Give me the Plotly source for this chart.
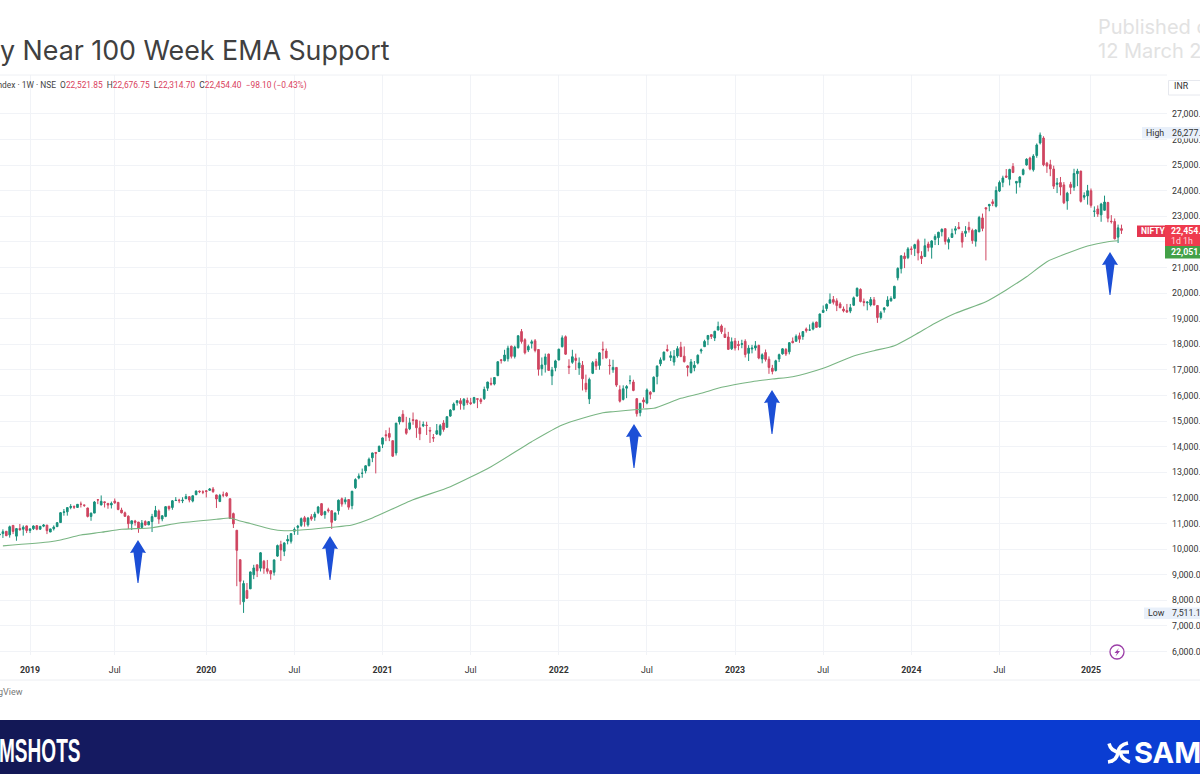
import plotly.graph_objects as go
import pandas as pd

# Weekly bars, first Monday 2018-11-05
week_start = "2018-11-05"

opens = [
 10560,10610,10700,10560,10930,10510,10810,10780,10910,
 10730,10800,10920,10780,10900,10940,10670,10800,10880,11040,11440,11460,11630,11670,11630,11760,11730,11610,11280,11410,11930,11730,11850,11790,11730,11880,11830,11530,11420,11290,10990,11100,11060,10850,11080,10950,11080,11270,11490,11180,11280,11680,11630,11900,11920,11890,11970,12050,11880,12130,12270,12240,
 12280,12300,12350,12120,11860,12120,12190,11970,11390,10740,9590,7945,8385,8450,9000,9390,9260,9530,9240,9160,9100,9730,10180,9920,10320,10310,10700,10850,10930,11230,10950,11270,11250,11430,11780,11350,11540,11500,11140,11500,11970,11850,11940,11700,12400,12780,12960,13060,13260,13570,13780,13815,
 14100,14470,14520,14240,13760,14970,15270,14700,14700,15060,15050,14740,14820,14840,14640,14360,14500,14480,14930,14760,15200,15440,15720,15800,15620,15810,15720,15720,15880,15840,15880,16290,16480,16450,16780,17400,17360,17440,17930,17530,17870,18500,18180,17780,18040,18140,17800,17050,17210,17620,16770,17090,
 17390,17910,18300,17150,17300,17460,17080,17190,16480,15870,16870,17330,17180,17810,17740,17180,17010,17100,16230,15850,16290,16580,16530,15880,15330,15830,15710,16130,16150,16750,17240,17400,17800,17490,17310,17550,17890,17540,17160,16900,17090,17270,17740,17910,18200,18380,18250,18560,18720,18400,18290,17830,
 18130,18000,18000,18120,17650,17820,17860,17960,17430,17680,17420,17070,16980,17430,17630,17800,17710,18120,18120,18340,18310,18600,18560,18600,18870,18680,19250,19400,19610,19750,19700,19580,19380,19320,19300,19530,19890,20150,19680,19620,19540,19740,19520,19050,19350,19500,19700,19800,20600,20960,21450,21390,
 21730,21750,22050,21450,21430,21920,21790,22100,22170,22400,22520,21990,22180,22460,22580,22340,22340,22570,22450,22030,22400,22940,23340,23410,23570,23400,23990,24330,24580,24450,24950,24300,24320,24640,25010,25280,24820,25380,25870,26060,25080,25020,24850,24250,24320,24230,23600,24250,24140,24670,24770,23750,23800,
 24000,23200,23290,23060,23240,23540,22810,22800,22190,22521.85,
]
highs = [
 10600,10775,10710,10920,10940,10820,10985,10930,10920,
 10800,10930,10930,10900,10980,10950,10800,10930,11060,11450,11570,11630,11760,11710,11760,11860,11730,11620,11430,11880,11960,12100,11860,11800,11860,11980,11830,11620,11470,11320,11100,11145,11060,11140,11130,11090,11380,11690,11550,11330,11680,11680,11920,12035,11970,12030,12160,12070,12100,12290,12290,12300,
 12310,12390,12430,12130,12160,12250,12230,11980,11430,10750,9590,8777,8680,9130,9390,9390,9890,9580,9580,9180,9600,10180,10330,10270,10550,10630,10850,10950,11240,11300,11260,11370,11460,11690,11800,11500,11620,11530,11430,11940,12020,12030,11950,12280,12770,12960,13150,13280,13580,13770,13780,14050,
 14370,14650,14750,14240,14930,15170,15430,15170,15130,15340,15050,15020,14990,14980,14770,14500,14890,14890,15040,15190,15470,15730,15810,15900,15900,15920,15910,15950,15880,15910,16350,16540,16700,16720,17340,17430,17790,17950,17950,17950,18350,18600,18240,17990,18180,18210,17810,17490,17640,17640,17120,17400,
 17830,18350,18350,17420,17790,17640,17490,17350,16820,16700,17350,17440,17700,18110,17840,17420,17400,17100,16400,16400,16410,16790,16620,15900,15710,15930,16280,16180,16750,17170,17490,17720,17990,17730,17780,17930,18100,17920,17190,17430,17350,17610,17840,18180,18360,18400,18530,18890,18780,18650,18490,18270,
 18250,18140,18180,18200,17970,17980,18130,17990,17650,17800,17530,17200,17400,17640,17850,17860,18090,18270,18390,18460,18520,18660,18780,18890,18890,19200,19520,19600,19990,19890,19800,19650,19480,19580,19580,19870,20220,20190,19790,19680,19850,19850,19520,19300,19460,19880,19880,20290,21010,21490,21590,21800,
 21830,21930,22125,21640,22130,22010,22070,22300,22400,22530,22530,22180,22520,22620,22780,22430,22620,22790,22520,22500,23020,23110,23340,23490,23670,24170,24400,24590,24850,24860,25080,24380,24570,24870,25270,25330,25430,25850,26277,26130,25130,25210,24980,24500,24540,24340,23960,24350,24860,24860,24780,23940,24230,
 24090,23390,23430,23530,23810,23570,23050,22920,22680,22676.75,
]
lows = [
 10440,10440,10510,10450,10590,10330,10730,10530,10630,
 10630,10750,10740,10760,10860,10590,10670,10730,10880,11040,11310,11310,11560,11570,11630,11630,11650,11240,11110,11410,11760,11710,11630,11580,11590,11770,11520,11400,11260,10790,10750,10920,10640,10840,10920,10940,10670,11270,10990,11090,11250,11510,11540,11900,11800,11800,11980,11830,11830,12110,12190,12150,
 12020,12280,12200,11610,11860,12030,12050,11180,10827,8555,7832,7511,8056,8516,8830,8910,9130,9040,9040,8810,8970,9700,9540,9730,10190,10220,10560,10560,10870,10880,10880,11110,11110,11370,11300,11190,11430,10790,11100,11350,11660,11750,11540,11560,12350,12730,12790,12960,13240,13400,12960,13810,
 13950,14220,14220,13600,13660,14870,14960,14470,14650,14860,14350,14260,14770,14460,14150,14190,14460,14420,14590,14760,15170,15430,15610,15450,15450,15630,15630,15680,15510,15670,15830,16180,16390,16400,16760,17250,17340,17330,17450,17450,17840,18030,17610,17700,17840,17690,16780,16780,16900,16960,16410,16950,
 17380,17880,17590,16840,17240,17000,16810,16200,16130,15670,16840,17000,17010,17420,17450,16820,16890,16340,15730,15810,15900,16440,16170,15180,15190,15510,15660,15860,16140,16440,17150,17360,17710,17350,17170,17480,17500,17290,16750,16860,16950,17220,17640,17910,17970,18210,18130,18550,18410,18260,17780,17780,
 17760,17770,17850,17490,17350,17650,17760,17420,17260,17330,16850,16830,16940,17310,17600,17550,17610,18040,18120,18060,18180,18460,18530,18550,18650,18650,19230,19300,19610,19560,19300,19420,19250,19230,19220,19500,19860,19640,19490,19330,19480,19520,18840,18970,19240,19480,19670,19770,20500,20770,20980,21330,
 21500,21450,21280,21140,21430,21630,21350,21880,21880,22220,21900,21710,22160,22300,22500,21780,22200,22370,21930,21820,22380,22420,21280,23200,23400,23350,23950,24140,24500,24210,24690,23890,24130,24600,24980,24800,24750,25290,25810,24960,24700,24570,24070,23910,23820,23480,23260,23870,24000,24180,23540,23650,23460,
 23340,22980,22980,22790,23220,22770,22720,22100,21960,22314.70,
]
closes = [
 10585,10682,10527,10877,10694,10805,10754,10859,10727,
 10794,10907,10780,10894,10944,10724,10792,10863,11035,11427,11456,11624,11666,11643,11753,11755,11712,11279,11407,11844,11923,11871,11823,11724,11788,11811,11552,11419,11284,10997,11109,11048,10829,11023,10946,11076,11274,11512,11175,11305,11662,11584,11890,11908,11895,11914,12056,11922,12087,12272,12246,12226,
 12257,12352,12248,11962,12098,12113,12081,11202,10989,9955,8745,8660,8084,9112,9267,9154,9860,9251,9137,9039,9580,10142,9972,10244,10383,10607,10768,10901,11194,11073,11214,11178,11371,11647,11333,11464,11504,11050,11416,11914,11762,11930,11642,12263,12720,12859,12968,13258,13513,13760,13749,14018,
 14347,14433,14371,13634,14924,15163,14981,14529,14938,15030,14744,14507,14867,14834,14617,14341,14631,14823,14677,15175,15435,15670,15799,15683,15860,15722,15689,15923,15856,15763,16238,16529,16450,16705,17323,17369,17585,17853,17532,17895,18338,18114,17671,17916,18102,17765,17026,17196,17511,16985,17003,17354,
 17812,18255,17617,17101,17516,17374,17276,16658,16245,16630,17287,17153,17670,17784,17475,17171,17102,16411,15782,16266,16352,16584,16201,15293,15699,15752,16220,16049,16719,17158,17397,17698,17758,17558,17539,17833,17530,17327,17094,17314,17185,17576,17786,18117,18349,18307,18512,18696,18496,18269,17806,18105,
 17859,17956,18027,17604,17854,17856,17944,17466,17594,17413,17100,16945,17359,17599,17828,17624,18065,18069,18315,18203,18499,18534,18563,18826,18665,19189,19332,19564,19745,19646,19517,19428,19310,19266,19435,19820,20192,19674,19638,19654,19751,19542,19047,19230,19425,19732,19795,20268,20969,21457,21349,21731,
 21711,21895,21572,21353,21854,21783,22041,22213,22379,22494,22023,22097,22327,22514,22519,21996,22420,22476,22055,22466,22957,22531,23290,23466,23501,24010,24324,24502,24531,24834,24717,24367,24541,24823,25235,24852,25356,25790,26178,25014,24964,24854,24180,24304,24148,23532,23907,24131,24677,24768,23587,23813,24005,
 23432,23203,23092,23482,23560,22929,22796,22125,22552,22454.40,
]

ema_dates = ["2018-11-12","2019-02-18","2019-03-11","2019-04-22","2019-06-03","2019-07-15","2019-09-16","2019-11-11",
 "2020-01-27","2020-02-24","2020-03-16","2020-04-06","2020-05-18","2020-06-15","2020-07-13","2020-09-21","2020-11-02","2020-12-14",
 "2021-03-08","2021-05-24","2021-08-16","2021-11-08","2022-01-10","2022-04-04","2022-04-25","2022-06-27","2022-07-18","2022-09-12","2022-10-24","2022-12-05",
 "2023-02-06","2023-03-20","2023-05-01","2023-07-03","2023-09-04","2023-10-16","2023-11-27","2024-01-08","2024-02-19","2024-04-01","2024-06-03","2024-07-15","2024-08-26","2024-10-07","2024-11-18","2024-12-30","2025-02-10","2025-03-03"]
ema_values = [10130,10290,10360,10555,10660,10777,10840,11023,
 11167,11219,11100,11000,10790,10723,10740,10855,10945,11219,
 11930,12441,13223,14200,14852,15332,15371,15477,15503,15894,16090,16324,
 16543,16648,16738,17066,17547,17755,17950,18367,18824,19215,19668,20128,20644,21230,21558,21844,22012,22051]

tick_dates = ["2019-01-07","2019-07-01","2020-01-06","2020-07-06","2021-01-04","2021-07-05","2022-01-03","2022-07-04","2023-01-02","2023-07-03","2024-01-01","2024-07-01","2025-01-06"]
tick_labels = ["<b>2019</b>","Jul","<b>2020</b>","Jul","<b>2021</b>","Jul","<b>2022</b>","Jul","<b>2023</b>","Jul","<b>2024</b>","Jul","<b>2025</b>"]
price_ticks = list(range(6000, 28000, 1000))
arrow_centres = [-8, 138, 330, 634, 772, 1110]
arrow_tops = [554, 540, 536, 424, 390, 252]
arrow_lengths = [44, 43, 44, 44, 44, 43]

UP, DOWN = "#17907c", "#cf4560"
W, H = 1200, 776
L_, R_, T_, B_ = 0, 1167, 75, 655
PX = lambda x: (x - L_) / (R_ - L_)
PY = lambda y: (B_ - y) / (B_ - T_)

dates = pd.date_range(week_start, periods=len(closes), freq="7D")
assert len(opens) == len(highs) == len(lows) == len(closes), (len(opens), len(highs), len(lows), len(closes))

fig = go.Figure()
fig.add_trace(go.Candlestick(x=dates, open=opens, high=highs, low=lows, close=closes,
    increasing=dict(line=dict(color=UP, width=1), fillcolor=UP),
    decreasing=dict(line=dict(color=DOWN, width=1), fillcolor=DOWN),
    whiskerwidth=0, hoverinfo="skip", showlegend=False))
fig.add_trace(go.Scatter(x=pd.to_datetime(ema_dates), y=ema_values, mode="lines",
    line=dict(color="#79b583", width=1.1, shape="spline", smoothing=0.6), hoverinfo="skip", showlegend=False))

def rect(x0, y0, x1, y1, fill, line=None):
    return dict(type="rect", xref="paper", yref="paper", x0=PX(x0), x1=PX(x1), y0=PY(y0), y1=PY(y1),
                fillcolor=fill, line=dict(width=1 if line else 0, color=line or fill), layer="above")

def poly(points, fill):
    d = "M" + " L".join(f"{PX(x):.5f},{PY(y):.5f}" for x, y in points) + " Z"
    return dict(type="path", xref="paper", yref="paper", path=d, fillcolor=fill, line=dict(width=0), layer="above")

def stroke(d_points, color, width):
    d = " ".join(f"{c}{PX(x):.5f},{PY(y):.5f}" + (f" {PX(x2):.5f},{PY(y2):.5f}" if x2 is not None else "")
                 for c, x, y, x2, y2 in d_points)
    return dict(type="path", xref="paper", yref="paper", path=d, line=dict(width=width, color=color), layer="above")

def note(x, y, text, size=8.8, color="#131722", anchor="left", family="Roboto", bg=None):
    return dict(xref="paper", yref="paper", x=PX(x), y=PY(y), text=text, showarrow=False, xanchor=anchor, yanchor="middle",
                font=dict(size=size, color=color, family=family), bgcolor=bg, borderpad=0, align="left")

shapes = []
stops = [(0, (19, 24, 84)), (120, (21, 27, 100)), (400, (27, 35, 133)), (800, (17, 46, 175)), (1000, (10, 58, 208)), (1200, (11, 63, 212))]
def colour_at(x):
    for (a, ca), (b, cb) in zip(stops, stops[1:]):
        if a <= x <= b:
            t = (x - a) / (b - a)
            return "rgb(%d,%d,%d)" % tuple(round(p + (q - p) * t) for p, q in zip(ca, cb))
    return "rgb(11,63,212)"
for x in range(0, 1200, 10):
    shapes.append(rect(x, 720, x + 10.5, 774, colour_at(x + 5)))

# logo mark
shapes.append(stroke([("M", 1109, 743.5, None, None), ("Q", 1111, 752, 1120, 752), ("L", 1129, 752, None, None)], "white", 3.5))
shapes.append(stroke([("M", 1128, 743, None, None), ("Q", 1119, 745, 1118, 752), ("Q", 1117, 761, 1108, 762)], "white", 3.5))
shapes.append(stroke([("M", 1120, 752, None, None), ("Q", 1122, 760, 1130, 762)], "white", 3.5))

shapes.append(dict(type="line", xref="paper", yref="paper", x0=0, x1=1, y0=PY(75), y1=PY(75), line=dict(color="#eef0f4", width=1)))
shapes.append(dict(type="line", xref="paper", yref="paper", x0=0, x1=PX(1200), y0=PY(680), y1=PY(680), line=dict(color="#eceef2", width=1)))

for cx, top, ln in zip(arrow_centres, arrow_tops, arrow_lengths):
    shapes.append(poly([(cx, top), (cx + 8, top + 13), (cx + 4.5, top + 12.5), (cx + 0.5, top + ln), (cx - 0.5, top + ln), (cx - 4.5, top + 12.5), (cx - 8, top + 13)], "#1c4fd6"))

shapes += [
    rect(1142, 127, 1168, 138.5, "#e9f0fa"), rect(1168, 127, 1200, 138.5, "#e9f0fa"),
    rect(1144, 607.5, 1168, 619, "#e9f0fa"), rect(1168, 607.5, 1200, 619, "#e9f0fa"),
    rect(1137, 225.5, 1165, 237, "#e5364f"),
    rect(1165, 225, 1200, 246, "#ef3b4e"),
    rect(1165, 246, 1200, 258.5, "#43a047"),
    rect(1168.5, 80.5, 1205, 95, "#ffffff", "#e6e8ee"),
]
shapes.append(dict(type="circle", xref="paper", yref="paper", x0=PX(1110), x1=PX(1124), y0=PY(645), y1=PY(659),
                   fillcolor="white", line=dict(color="#9c3fa8", width=1.3), layer="above"))
shapes.append(poly([(1119, 648), (1114.5, 653), (1117, 653), (1115.5, 656.5), (1120, 651), (1117.5, 651)], "#9c3fa8"))

red = "#d9405c"
legend = ("<span style='color:#444'>Nifty 50 Index · 1W · NSE</span>  "
          f"<span style='color:#444'>O</span><span style='color:{red}'>22,521.85</span>  "
          f"<span style='color:#444'>H</span><span style='color:{red}'>22,676.75</span>  "
          f"<span style='color:#444'>L</span><span style='color:{red}'>22,314.70</span>  "
          f"<span style='color:#444'>C</span><span style='color:{red}'>22,454.40</span>  "
          f"<span style='color:{red}'>−98.10 (−0.43%)</span>")

annotations = [
    note(391, 50, "Nifty Near 100 Week EMA Support", size=26.8, color="#404040", anchor="right", family="Inter"),
    note(1097, 27, "Published on", size=20, color="#e2e2e2", family="Inter"),
    note(1097, 51, "12 March 2025", size=20, color="#e2e2e2", family="Inter"),
    note(308, 85, legend, size=8.4, anchor="right"),
    note(1173, 86, "INR", color="#333"),
    note(1145, 132.5, "High", color="#333"),
    note(1171, 132.5, "26,277.35", color="#333"),
    note(1147, 613, "Low", color="#333"),
    note(1171, 613, "7,511.10", color="#333"),
    note(1139.5, 231, "<b>NIFTY</b>", size=8.5, color="white"),
    note(1170, 231, "<b>22,454.40</b>", color="white"),
    note(1170, 240.5, "1d 1h", color="#ffd5da"),
    note(1170, 252.5, "<b>22,051.20</b>", color="white"),
    note(24, 692, "TradingView", size=9, color="#777", anchor="right"),
    dict(xref="paper", yref="paper", x=PX(26), y=PY(750), text="<b>SAMSHOTS</b>", showarrow=False, xanchor="center", yanchor="middle",
         font=dict(size=33, color="white", family="Liberation Sans")),
    note(1133, 752, "<b>SAMCO</b>", size=29, color="white", family="Inter"),
]

fig.update_layout(
    width=W, height=H, autosize=False, paper_bgcolor="white", plot_bgcolor="white",
    margin=dict(l=L_, r=W - R_, t=T_, b=H - B_, autoexpand=False), showlegend=False, hovermode=False,
    font=dict(family="Roboto", size=9, color="#333"),
    shapes=shapes, annotations=annotations,
    xaxis=dict(type="date", range=["2018-11-06", "2025-06-12"], rangeslider=dict(visible=False),
               tickmode="array", tickvals=tick_dates, ticktext=tick_labels, ticks="",
               showgrid=True, gridcolor="#f1f3f7", gridwidth=1, zeroline=False, showline=False,
               ticklabelstandoff=8, tickfont=dict(size=8.8, color="#333", family="Roboto")),
    yaxis=dict(side="right", range=[5867, 28523], tickmode="array", tickvals=price_ticks,
               tickformat=",.2f", ticks="", showgrid=True, gridcolor="#f1f3f7", gridwidth=1, zeroline=False,
               showline=False, ticklabelstandoff=4, tickfont=dict(size=8.8, color="#333", family="Roboto")),
)

squeeze = """
document.body.style.margin='0';document.documentElement.style.overflow='hidden';
document.querySelectorAll('.annotation-text').forEach(function(t){
  if(t.textContent==='SAMSHOTS'){t.setAttribute('textLength','108');t.setAttribute('lengthAdjust','spacingAndGlyphs');}
});
"""
fig.write_html("out.html", config=dict(displayModeBar=False, responsive=False), post_script=squeeze)
